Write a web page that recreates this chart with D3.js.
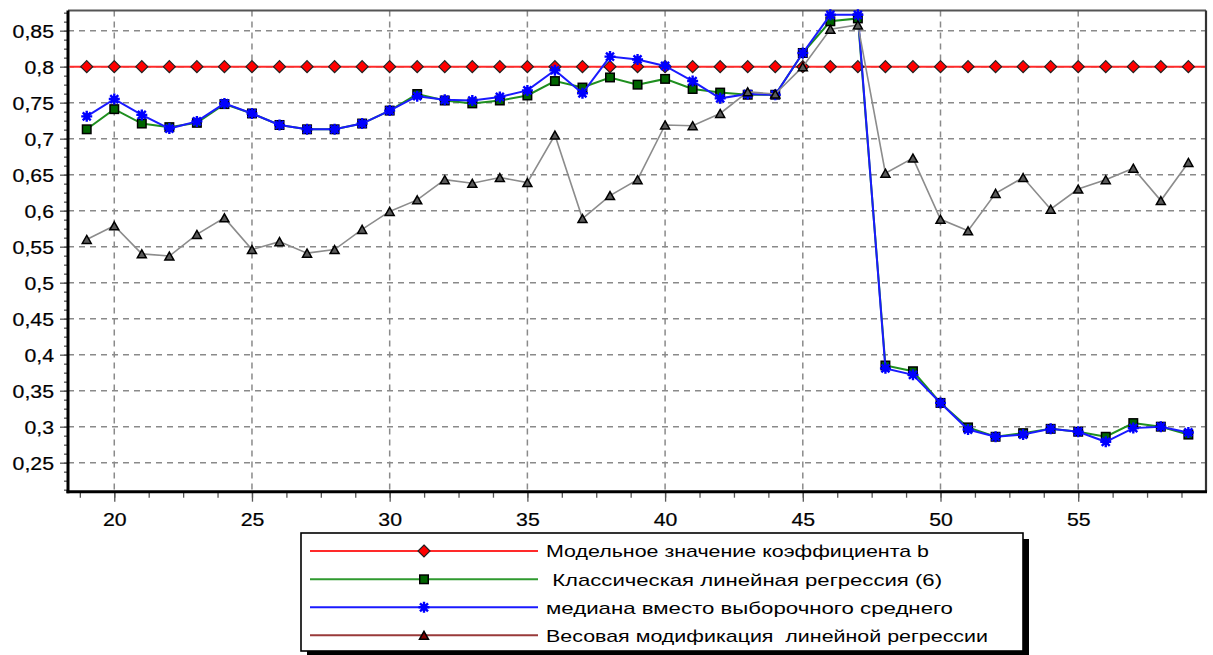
<!DOCTYPE html>
<html>
<head>
<meta charset="utf-8">
<script src="https://cdn.jsdelivr.net/npm/d3@7"></script>
<style>
  html, body { margin: 0; padding: 0; background: #ffffff; }
  svg { display: block; }
  text { font-family: "Liberation Sans", Arial, sans-serif; fill: #000; white-space: pre; }
</style>
</head>
<body>
<script>
// ---- data -------------------------------------------------------------
const xValues = [19, 20, 21, 22, 23, 24, 25, 26, 27, 28, 29, 30, 31, 32, 33, 34, 35, 36, 37, 38,
                 39, 40, 41, 42, 43, 44, 45, 46, 47, 48, 49, 50, 51, 52, 53, 54, 55, 56, 57, 58, 59];

// model value of coefficient b
const modelB = [0.8, 0.8, 0.8, 0.8, 0.8, 0.8, 0.8, 0.8, 0.8, 0.8, 0.8, 0.8, 0.8, 0.8, 0.8, 0.8, 0.8, 0.8, 0.8, 0.8,
                0.8, 0.8, 0.8, 0.8, 0.8, 0.8, 0.8, 0.8, 0.8, 0.8, 0.8, 0.8, 0.8, 0.8, 0.8, 0.8, 0.8, 0.8, 0.8, 0.8, 0.8];

// classical linear regression (6)
const classicB = [0.713, 0.741, 0.721, 0.716, 0.722, 0.748, 0.735, 0.719, 0.713, 0.713,
                  0.721, 0.739, 0.762, 0.753, 0.749, 0.753, 0.760, 0.780, 0.771, 0.785,
                  0.775, 0.783, 0.769, 0.764, 0.761, 0.761, 0.819, 0.863, 0.867, 0.385,
                  0.377, 0.333, 0.299, 0.286, 0.291, 0.297, 0.293, 0.286, 0.305, 0.300, 0.289];

// median instead of sample mean
const medianB = [0.731, 0.755, 0.733, 0.714, 0.724, 0.749, 0.735, 0.719, 0.713, 0.713,
                 0.721, 0.739, 0.759, 0.754, 0.753, 0.758, 0.767, 0.795, 0.763, 0.814,
                 0.810, 0.801, 0.780, 0.756, 0.762, 0.761, 0.819, 0.872, 0.872, 0.381,
                 0.372, 0.333, 0.296, 0.286, 0.289, 0.297, 0.293, 0.279, 0.298, 0.300, 0.292];

// weighted modification of linear regression
const weightedB = [0.560, 0.579, 0.540, 0.537, 0.567, 0.590, 0.546, 0.557, 0.541, 0.546,
                   0.574, 0.599, 0.615, 0.643, 0.638, 0.646, 0.639, 0.705, 0.589, 0.621,
                   0.643, 0.719, 0.718, 0.735, 0.765, 0.762, 0.800, 0.852, 0.858, 0.652,
                   0.673, 0.588, 0.572, 0.624, 0.646, 0.602, 0.630, 0.643, 0.659, 0.614, 0.667];

const yTickValues = [0.25, 0.3, 0.35, 0.4, 0.45, 0.5, 0.55, 0.6, 0.65, 0.7, 0.75, 0.8, 0.85];
const yTickLabels = ["0,25", "0,3", "0,35", "0,4", "0,45", "0,5", "0,55", "0,6", "0,65", "0,7", "0,75", "0,8", "0,85"];
const xTickValues = [20, 25, 30, 35, 40, 45, 50, 55];
const xTickLabels = ["20", "25", "30", "35", "40", "45", "50", "55"];

const legendLabels = [
  "Модельное значение коэффициента b",
  " Классическая линейная регрессия (6)",
  "медиана вместо выборочного среднего",
  "Весовая модификация  линейной регрессии"
];

// ---- layout -----------------------------------------------------------
const W = 1213, H = 655;
const plot = { left: 68, right: 1206, top: 10.5, bottom: 491.7 };

const svg = d3.select("body").append("svg").attr("width", W).attr("height", H);

const x = d3.scaleLinear().domain([18.32, 59.64]).range([plot.left, plot.right]);
const y = d3.scaleLinear().domain([0.2097, 0.878]).range([plot.bottom, plot.top]);

const TEXT_SX = 1.12;   // labels are drawn slightly wide

// ---- grid -------------------------------------------------------------
const grid = svg.append("g")
  .attr("stroke", "#8a8a8a").attr("stroke-width", 1.5).attr("stroke-dasharray", "6,5");
grid.selectAll("line.h").data(yTickValues).join("line").attr("class", "h")
  .attr("x1", plot.left).attr("x2", plot.right)
  .attr("y1", d => y(d)).attr("y2", d => y(d));
grid.selectAll("line.v").data(xTickValues).join("line").attr("class", "v")
  .attr("y1", plot.top).attr("y2", plot.bottom)
  .attr("x1", d => x(d)).attr("x2", d => x(d));

// ---- frame ------------------------------------------------------------
svg.append("line").attr("x1", plot.left).attr("x2", plot.right).attr("y1", plot.top).attr("y2", plot.top)
  .attr("stroke", "#555").attr("stroke-width", 2);
svg.append("line").attr("x1", plot.right).attr("x2", plot.right).attr("y1", plot.top).attr("y2", plot.bottom)
  .attr("stroke", "#333").attr("stroke-width", 2.2);

// ---- axes (ticks via d3 axis generators) --------------------------------
const yMinor = d3.range(0.2125, 0.8751, 0.0125);
const xMinor = d3.range(18.75, 59.01, 1.25);

const yAxisMinor = svg.append("g").attr("transform", `translate(${plot.left},0)`)
  .call(d3.axisLeft(y).tickValues(yMinor).tickSize(4).tickFormat(""));
const yAxisMajor = svg.append("g").attr("transform", `translate(${plot.left},0)`)
  .call(d3.axisLeft(y).tickValues(yTickValues).tickSize(8).tickPadding(7)
    .tickFormat((d, i) => yTickLabels[i]));
const xAxisMinor = svg.append("g").attr("transform", `translate(0,${plot.bottom})`)
  .call(d3.axisBottom(x).tickValues(xMinor).tickSize(6).tickFormat(""));
const xAxisMajor = svg.append("g").attr("transform", `translate(0,${plot.bottom})`)
  .call(d3.axisBottom(x).tickValues(xTickValues).tickSize(10).tickPadding(12)
    .tickFormat((d, i) => xTickLabels[i]));

[yAxisMinor, yAxisMajor, xAxisMinor, xAxisMajor].forEach(g => {
  g.select(".domain").remove();
  g.selectAll(".tick line").attr("stroke", "#555").attr("stroke-width", 1.3);
});

// widen tick labels horizontally around their anchor
yAxisMajor.selectAll(".tick text")
  .attr("font-size", 19).attr("font-family", "Liberation Sans, Arial, sans-serif")
  .attr("fill", "#111").attr("stroke", "#111").attr("stroke-width", 0.25)
  .attr("dy", null).attr("x", 0).attr("y", 0)
  .attr("transform", `translate(-14,6.8) scale(${TEXT_SX},1)`);
xAxisMajor.selectAll(".tick text")
  .attr("font-size", 19).attr("font-family", "Liberation Sans, Arial, sans-serif")
  .attr("fill", "#111").attr("stroke", "#111").attr("stroke-width", 0.25)
  .attr("dy", null).attr("x", 0).attr("y", 0)
  .attr("transform", `translate(0,34.3) scale(${TEXT_SX},1)`);

// heavy axis lines
svg.append("line").attr("x1", plot.left).attr("x2", plot.left).attr("y1", plot.top).attr("y2", plot.bottom + 1.5)
  .attr("stroke", "#000").attr("stroke-width", 3);
svg.append("line").attr("x1", plot.left - 1.5).attr("x2", plot.right + 1).attr("y1", plot.bottom).attr("y2", plot.bottom)
  .attr("stroke", "#000").attr("stroke-width", 3);

// ---- markers ----------------------------------------------------------
function diamond(g, cx, cy, fill) {
  const r = 6;
  g.append("path").attr("d", `M${cx},${cy - r}L${cx + r},${cy}L${cx},${cy + r}L${cx - r},${cy}Z`)
    .attr("fill", fill).attr("stroke", "#222").attr("stroke-width", 1.2);
}
function square(g, cx, cy, fill) {
  const s = 8.5;
  g.append("rect").attr("x", cx - s / 2).attr("y", cy - s / 2).attr("width", s).attr("height", s)
    .attr("fill", fill).attr("stroke", "#000").attr("stroke-width", 1.5);
}
function asterisk(g, cx, cy, color) {
  const r = 5.5, d = 4;
  g.append("path")
    .attr("d", `M${cx - r},${cy}H${cx + r}M${cx},${cy - r}V${cy + r}` +
               `M${cx - d},${cy - d}L${cx + d},${cy + d}M${cx - d},${cy + d}L${cx + d},${cy - d}`)
    .attr("stroke", color).attr("stroke-width", 2.4).attr("fill", "none");
  g.append("rect").attr("x", cx - 3).attr("y", cy - 3).attr("width", 6).attr("height", 6).attr("fill", color);
}
function triangle(g, cx, cy, fill) {
  const w = 4.5, h = 4;
  g.append("path").attr("d", `M${cx},${cy - h}L${cx + w},${cy + h}L${cx - w},${cy + h}Z`)
    .attr("fill", fill).attr("stroke", "#000").attr("stroke-width", 1.5);
}

// ---- series -----------------------------------------------------------
const series = [
  { values: modelB,    line: "#ff2a2a", width: 2,   marker: diamond,  mfill: "#ff0000", full: true },
  { values: classicB,  line: "#1f8f1f", width: 2,   marker: square,   mfill: "#006400" },
  { values: medianB,   line: "#1a1aff", width: 2,   marker: asterisk, mfill: "#0000ff" },
  { values: weightedB, line: "#8c8c8c", width: 1.6, marker: triangle, mfill: "#5a5a5a" }
];

const lineGen = d3.line().x(d => x(d[0])).y(d => y(d[1]));

series.forEach(s => {
  const g = svg.append("g");
  const pts = xValues.map((xv, i) => [xv, s.values[i]]);
  if (s.full) {
    // constant reference value spans the whole plot width
    g.append("line")
      .attr("x1", plot.left + 1.5).attr("x2", plot.right - 1)
      .attr("y1", y(s.values[0])).attr("y2", y(s.values[s.values.length - 1]))
      .attr("stroke", s.line).attr("stroke-width", s.width);
  } else {
    g.append("path").attr("d", lineGen(pts)).attr("fill", "none")
      .attr("stroke", s.line).attr("stroke-width", s.width);
  }
  pts.forEach(p => s.marker(g, x(p[0]), y(p[1]), s.mfill));
});

// ---- legend -----------------------------------------------------------
const lg = { left: 301, top: 533, right: 1023, bottom: 651 };
svg.append("rect").attr("x", lg.left + 6).attr("y", lg.top + 6)
  .attr("width", lg.right - lg.left).attr("height", lg.bottom - lg.top).attr("fill", "#000");
svg.append("rect").attr("x", lg.left).attr("y", lg.top)
  .attr("width", lg.right - lg.left).attr("height", lg.bottom - lg.top)
  .attr("fill", "#fff").attr("stroke", "#000").attr("stroke-width", 1.6);

const legendLine = ["#ff2a2a", "#2f9a2f", "#1a1aff", "#993a3a"];
const legendMarkerFill = ["#ff0000", "#006400", "#0000ff", "#800000"];
const legendMarker = [diamond, square, asterisk, triangle];
const legendTextWidth = [383, 396, 407, 442];
const rowY = [551, 579.3, 607.3, 635.3];

legendLabels.forEach((label, i) => {
  const g = svg.append("g");
  g.append("line").attr("x1", 310).attr("x2", 538).attr("y1", rowY[i]).attr("y2", rowY[i])
    .attr("stroke", legendLine[i]).attr("stroke-width", 2);
  legendMarker[i](g, 424, rowY[i], legendMarkerFill[i]);
  g.append("text").attr("x", 546).attr("y", rowY[i] + 6.3)
    .attr("font-size", 17)
    .attr("textLength", legendTextWidth[i]).attr("lengthAdjust", "spacingAndGlyphs")
    .text(label);
});
</script>
</body>
</html>
